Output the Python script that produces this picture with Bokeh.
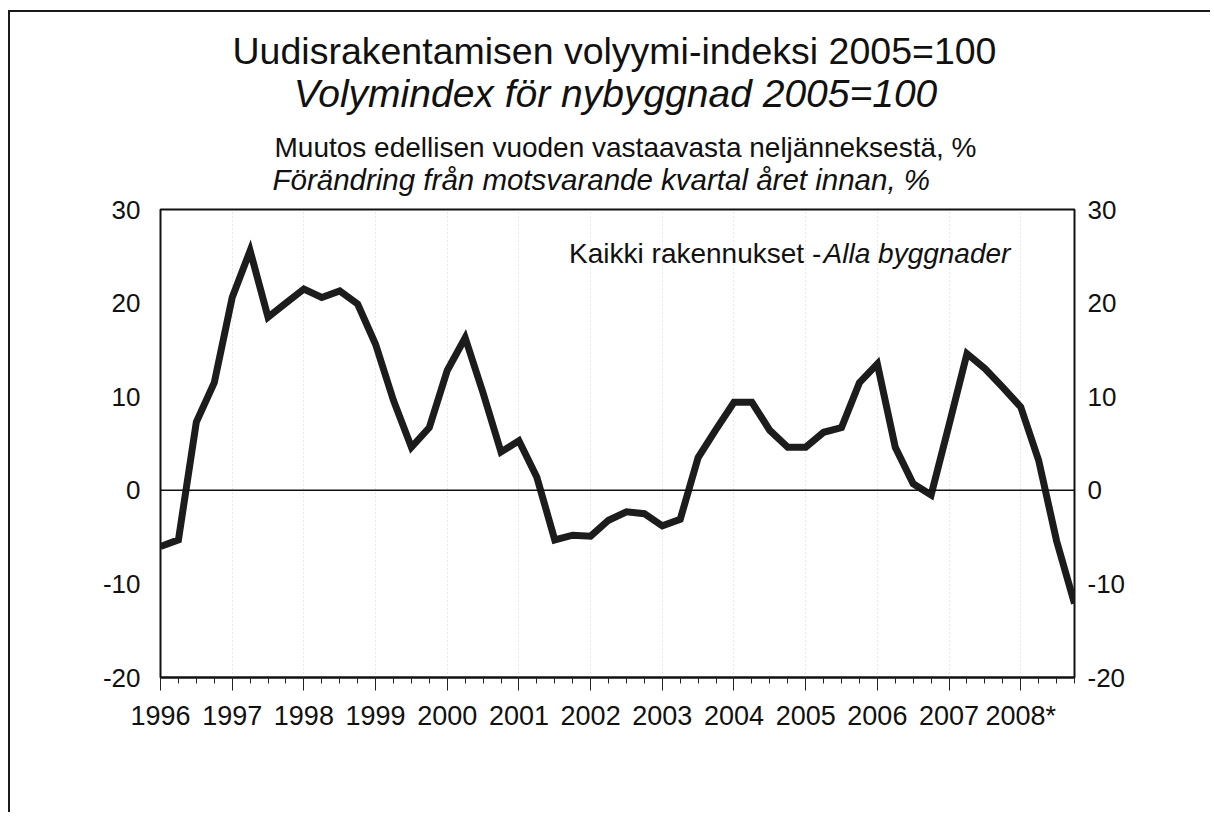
from bokeh.plotting import figure
from bokeh.models import FixedTicker, Span, Label, LinearAxis, Range1d
from bokeh.layouts import column
from bokeh.embed import file_html
from bokeh.resources import INLINE

# ---- data ----
years = list(range(1996, 2009))
year_labels = [str(y) for y in years[:-1]] + ["2008*"]
quarters_per_year = 4
change_pct = [
    -6.0, -5.3, 7.3, 11.5,      # 1996
    20.6, 25.6, 18.5, 20.0,     # 1997
    21.5, 20.6, 21.3, 19.9,     # 1998
    15.6, 9.6, 4.6, 6.7,        # 1999
    12.8, 16.3, 10.4, 4.1,      # 2000
    5.3, 1.4, -5.3, -4.8,       # 2001
    -4.9, -3.2, -2.3, -2.5,     # 2002
    -3.8, -3.1, 3.5, 6.5,       # 2003
    9.4, 9.4, 6.4, 4.6,         # 2004
    4.6, 6.2, 6.7, 11.5,        # 2005
    13.5, 4.6, 0.7, -0.5,       # 2006
    7.0, 14.6, 13.0, 11.0,      # 2007
    8.9, 3.2, -5.4, -12.1,      # 2008
]
y_ticks = [-20, -10, 0, 10, 20, 30]
y_tick_labels = ["-20", "-10", "0", "10", "20", "30"]

title_fi = "Uudisrakentamisen volyymi-indeksi 2005=100"
title_sv = "Volymindex för nybyggnad 2005=100"
sub_fi = "Muutos edellisen vuoden vastaavasta neljänneksestä, %"
sub_sv = "Förändring från motsvarande kvartal året innan, %"
series_fi = "Kaikki rakennukset -"
series_sv = "Alla byggnader"

xs = [years[0] + i / quarters_per_year for i in range(len(change_pct))]

FONT = "Liberation Sans"
INK = "#111111"
W = 1200
HEAD_H = 185
BL, BR = 150, 136

# ---- heading panel (canvas pixel coordinates, y measured from the top) ----
head = figure(width=W, height=HEAD_H, output_backend="svg", toolbar_location=None,
              x_range=Range1d(BL, W - BR), y_range=Range1d(HEAD_H, 0),
              min_border_left=BL, min_border_right=BR, min_border_top=0,
              min_border_bottom=0, x_axis_type=None, y_axis_type=None)
head.title.visible = False
head.title.standoff = 0
head.title.text_font_size = "0px"
head.outline_line_color = None
head.grid.grid_line_color = None
head.background_fill_color = "white"
head.border_fill_color = "white"

def head_text(text, x, y, size, style="normal", align="center"):
    head.add_layout(Label(x=x, y=y, text=text, text_font=FONT, text_font_size=size,
                          text_font_style=style, text_align=align,
                          text_baseline="middle", text_color=INK))

head_text(title_fi, 604, 38, "37.5px")
head_text(title_sv, 605, 80.5, "39px", "italic")
head_text(sub_fi, 264, 135, "28px", align="left")
head_text(sub_sv, 262, 166.5, "29.5px", "italic", align="left")

# ---- chart ----
p = figure(width=W, height=800 - HEAD_H, output_backend="svg", toolbar_location=None,
           x_range=Range1d(xs[0], xs[-1]), y_range=Range1d(-20, 30),
           min_border_left=BL, min_border_right=BR, min_border_top=12,
           min_border_bottom=135)
p.title.visible = False
p.outline_line_color = INK
p.outline_line_width = 2
p.background_fill_color = "white"
p.border_fill_color = "white"

# x axis
xt = FixedTicker(ticks=years, minor_ticks=xs)
p.xaxis.ticker = xt
p.xaxis.major_label_overrides = {y: l for y, l in zip(years, year_labels)}
p.xaxis.major_tick_out = 13
p.xaxis.major_tick_in = 0
p.xaxis.minor_tick_out = 6
p.xaxis.minor_tick_in = 0
p.xaxis.major_tick_line_color = "#222222"
p.xaxis.minor_tick_line_color = "#222222"
p.xaxis.axis_line_color = INK
p.xaxis.axis_line_width = 2
p.xaxis.major_label_text_font = FONT
p.xaxis.major_label_text_font_size = "27px"
p.xaxis.major_label_text_color = INK
p.xaxis.major_label_standoff = 10

# y axes
y_over = {t: l for t, l in zip(y_ticks, y_tick_labels)}
p.yaxis.ticker = FixedTicker(ticks=y_ticks)
p.yaxis.major_label_overrides = y_over
p.yaxis.major_tick_out = 0
p.yaxis.major_tick_in = 0
p.yaxis.minor_tick_line_color = None
p.yaxis.axis_line_color = None
p.yaxis.major_label_text_font = FONT
p.yaxis.major_label_text_font_size = "26px"
p.yaxis.major_label_text_color = INK
p.yaxis.major_label_standoff = 20

ry = LinearAxis(ticker=FixedTicker(ticks=y_ticks), major_label_overrides=y_over,
                major_tick_out=0, major_tick_in=0,
                minor_tick_line_color=None, axis_line_color=None,
                major_label_text_font=FONT, major_label_text_font_size="26px",
                major_label_text_color=INK, major_label_standoff=13)
p.add_layout(ry, "right")

# grids
p.ygrid.grid_line_color = None
p.xgrid.ticker = FixedTicker(ticks=years)
p.xgrid.grid_line_color = "#d0d0d0"
p.xgrid.grid_line_dash = "1 3"
p.xgrid.grid_line_width = 1

p.add_layout(Span(location=0, dimension="width", line_color=INK, line_width=1.5))

p.line(xs, change_pct, line_color="#1c1c1c", line_width=7, line_join="miter")

p.add_layout(Label(x=2001.70, y=25.3, text=series_fi, text_font=FONT, text_font_size="28px",
                   text_align="left", text_baseline="middle", text_color=INK))
p.add_layout(Label(x=2005.25, y=25.3, text=series_sv, text_font=FONT, text_font_size="28px",
                   text_font_style="italic", text_align="left", text_baseline="middle",
                   text_color=INK))

page = column(head, p, spacing=0)
page.styles = {"margin-left": "8px", "margin-top": "10px",
               "border-left": "2px solid #1a1a1a", "border-top": "2px solid #1a1a1a"}

open("out.html", "w").write(file_html(page, INLINE))
